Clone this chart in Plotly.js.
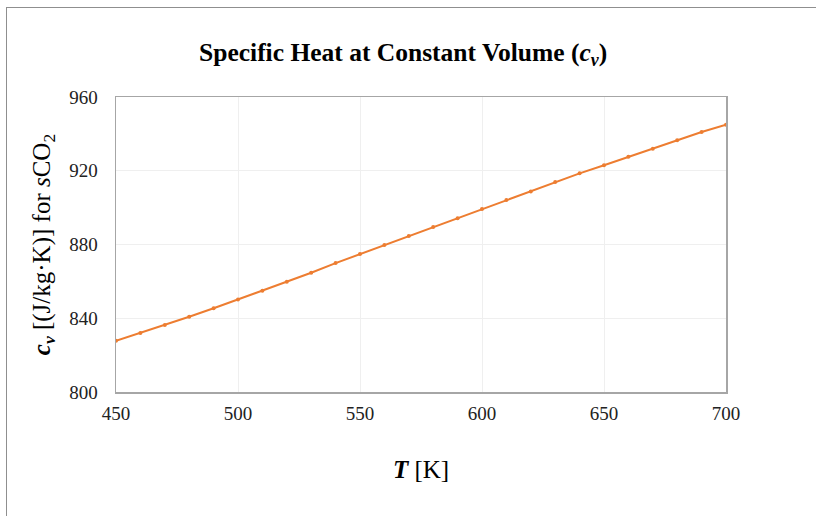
<!DOCTYPE html>
<html>
<head>
<meta charset="utf-8">
<script src="https://cdn.plot.ly/plotly-3.0.1.min.js"></script>
<style>
  html, body { margin: 0; padding: 0; background: #fff; overflow: hidden; }
  #chart { position: absolute; left: 0; top: 0; width: 816px; height: 516px; }
  #frame { position: absolute; left: 6px; top: 7px; width: 900px; height: 600px;
           border-left: 1px solid #8f8f8f; border-top: 1px solid #8f8f8f; pointer-events: none; }
</style>
</head>
<body>
<div id="chart"></div>
<div id="frame"></div>
<script>
const temperatureK = [450, 460, 470, 480, 490, 500, 510, 520, 530, 540, 550, 560, 570,
                      580, 590, 600, 610, 620, 630, 640, 650, 660, 670, 680, 690, 700];
const cvValues = [827.8, 832.0, 836.3, 840.8, 845.4, 850.2, 854.9, 859.8, 864.7, 869.9,
                  874.8, 879.7, 884.6, 889.5, 894.2, 899.3, 904.1, 908.8, 913.9, 918.6,
                  923.0, 927.6, 932.0, 936.5, 941.0, 945.0];
const xTicks = [450, 500, 550, 600, 650, 700];
const yTicks = [800, 840, 880, 920, 960];

const serif = "'Liberation Serif', 'Times New Roman', serif";

const trace = {
  x: temperatureK,
  y: cvValues,
  type: 'scatter',
  mode: 'lines+markers',
  line: { color: '#ED7D31', width: 2 },
  marker: { color: '#ED7D31', size: 4 },
  showlegend: false,
  hoverinfo: 'x+y'
};

const layout = {
  width: 816,
  height: 516,
  margin: { l: 116, r: 90, t: 97, b: 124 },
  paper_bgcolor: '#ffffff',
  plot_bgcolor: '#ffffff',
  font: { family: serif, color: '#222' },
  title: {
    text: '<b>Specific Heat at Constant Volume (<i>c</i><sub><i>v</i></sub>)</b>',
    font: { family: serif, size: 25.5, color: '#000' },
    x: 0.494, xanchor: 'center',
    y: 0.9, yanchor: 'middle', yref: 'container'
  },
  xaxis: {
    range: [450, 700],
    tickvals: xTicks,
    ticktext: xTicks.map(String),
    showgrid: true,
    gridcolor: '#efefef',
    gridwidth: 1,
    zeroline: false,
    showline: true,
    linecolor: '#a6a6a6',
    linewidth: 1.5,
    mirror: true,
    ticks: '',
    ticklabelstandoff: 4,
    tickfont: { family: serif, size: 19, color: '#222' },
    title: {
      text: '<b><i>T</i></b> [K]',
      font: { family: serif, size: 25, color: '#000' },
      standoff: 37
    }
  },
  yaxis: {
    range: [800, 960],
    tickvals: yTicks,
    ticktext: yTicks.map(String),
    showgrid: true,
    gridcolor: '#efefef',
    gridwidth: 1,
    zeroline: false,
    showline: true,
    linecolor: '#a6a6a6',
    linewidth: 1.5,
    mirror: true,
    ticks: '',
    ticklabelstandoff: 13,
    tickfont: { family: serif, size: 19, color: '#222' },
    title: {
      text: '<b><i>c</i></b><sub><b><i>v</i></b></sub> [(J/kg·K)] for <i>s</i>CO<sub>2</sub>',
      font: { family: serif, size: 25, color: '#000' },
      standoff: 11
    }
  }
};

Plotly.newPlot('chart', [trace], layout, { displayModeBar: false, staticPlot: true });
</script>
</body>
</html>
